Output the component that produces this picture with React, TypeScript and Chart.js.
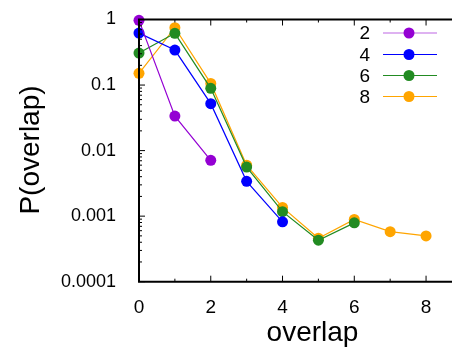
import React, { useEffect, useRef } from "react";
import { Chart, registerables } from "chart.js";

Chart.register(...registerables);

const seriesNames = ["2", "4", "6", "8"];
const seriesColors = ["#9400d3", "#0000ff", "#228b22", "#ffa500"];
const xs2 = [0, 1, 2];
const ys2 = [0.97, 0.0336, 0.0071];
const xs4 = [0, 1, 2, 3, 4];
const ys4 = [0.62, 0.342, 0.052, 0.0034, 0.00082];
const xs6 = [0, 1, 2, 3, 4, 5, 6];
const ys6 = [0.308, 0.615, 0.089, 0.0056, 0.00117, 0.00043, 0.00079];
const xs8 = [0, 1, 2, 3, 4, 5, 6, 7, 8];
const ys8 = [0.151, 0.75, 0.106, 0.006, 0.00136, 0.00046, 0.00089, 0.00058, 0.0005];
const xTicks = [0, 2, 4, 6, 8];
const xMinorTicks = [1, 3, 5, 7];
const yTicks = [1, 0.1, 0.01, 0.001, 0.0001];
const yTickLabels = ["1", "0.1", "0.01", "0.001", "0.0001"];

const FONT = "'Liberation Sans', Arial, sans-serif";

export default function App() {
  const ref = useRef<HTMLCanvasElement | null>(null);
  useEffect(() => {
    if (!ref.current) return;
    const xsAll = [xs2, xs4, xs6, xs8];
    const ysAll = [ys2, ys4, ys6, ys8];
    const datasets = seriesNames.map((n, i) => ({
      label: n,
      data: xsAll[i].map((x, j) => ({ x, y: ysAll[i][j] })),
      borderColor: seriesColors[i],
      backgroundColor: seriesColors[i],
      borderWidth: 1.2,
      pointRadius: 5.5,
      pointBorderWidth: 0,
      pointHoverRadius: 5.5,
      showLine: true,
      tension: 0,
      clip: false as any,
    }));

    const framePlugin = {
      id: "frame",
      afterDraw(chart: any) {
        const ctx = chart.ctx;
        const a = chart.chartArea;
        const xs = chart.scales.x;
        const ys = chart.scales.y;
        ctx.save();
        ctx.strokeStyle = "#000";
        ctx.lineWidth = 1;
        const tick = (x1: number, y1: number, x2: number, y2: number) => {
          ctx.beginPath();
          ctx.moveTo(x1, y1);
          ctx.lineTo(x2, y2);
          ctx.stroke();
        };
        xTicks.forEach((v) => {
          const p = xs.getPixelForValue(v);
          tick(p, a.bottom, p, a.bottom - 6);
          tick(p, a.top, p, a.top + 6);
        });
        xMinorTicks.forEach((v) => {
          const p = xs.getPixelForValue(v);
          tick(p, a.bottom, p, a.bottom - 3);
          tick(p, a.top, p, a.top + 3);
        });
        yTicks.forEach((v) => {
          const p = ys.getPixelForValue(v);
          tick(a.left, p, a.left + 6, p);
          if (v < 1) {
            for (let m = 2; m <= 9; m++) {
              const q = ys.getPixelForValue(v * m);
              tick(a.left, q, a.left + 3, q);
            }
          }
        });
        ctx.lineWidth = 2;
        ctx.beginPath();
        ctx.moveTo(chart.width, a.top);
        ctx.lineTo(a.left, a.top);
        ctx.lineTo(a.left, a.bottom);
        ctx.lineTo(chart.width, a.bottom);
        ctx.stroke();

        ctx.fillStyle = "#000";
        ctx.font = `28px ${FONT}`;
        ctx.textAlign = "center";
        ctx.textBaseline = "alphabetic";
        ctx.fillText("overlap", 312.5, 341);
        ctx.save();
        ctx.translate(39, 150);
        ctx.rotate(-Math.PI / 2);
        ctx.fillText("P(overlap)", 0, 0);
        ctx.restore();

        ctx.font = `19px ${FONT}`;
        ctx.textAlign = "right";
        ctx.textBaseline = "middle";
        const rows = [33, 54.5, 75.5, 96.5];
        seriesNames.forEach((n, i) => {
          const y = rows[i];
          ctx.fillStyle = "#000";
          ctx.fillText(n, 370, y + 1);
          ctx.strokeStyle = seriesColors[i];
          ctx.globalAlpha = i === 0 ? 0.6 : 1;
          ctx.lineWidth = 1.2;
          ctx.beginPath();
          ctx.moveTo(383, y);
          ctx.lineTo(437, y);
          ctx.stroke();
          ctx.globalAlpha = 1;
          ctx.fillStyle = seriesColors[i];
          ctx.beginPath();
          ctx.arc(409, y, 5.5, 0, Math.PI * 2);
          ctx.fill();
        });
        ctx.restore();
      },
    };

    const chart = new Chart(ref.current, {
      type: "scatter",
      data: { datasets: datasets as any },
      options: {
        animation: false,
        responsive: false,
        maintainAspectRatio: false,
        layout: { padding: { top: 19.5, right: 0, left: 0, bottom: 0 } },
        plugins: { legend: { display: false }, tooltip: { enabled: false } },
        scales: {
          x: {
            type: "linear",
            min: 0,
            max: 8.57,
            afterBuildTicks: (s: any) => {
              s.ticks = xTicks.map((v) => ({ value: v }));
            },
            afterFit: (s: any) => {
              s.height = 67.3;
              s.paddingLeft = 0;
              s.paddingRight = 0;
            },
            grid: { display: false },
            border: { display: false },
            ticks: {
              color: "#000",
              font: { family: FONT, size: 19 },
              padding: 7,
              maxRotation: 0,
              autoSkip: false,
            },
          },
          y: {
            type: "logarithmic",
            min: 0.0001,
            max: 1,
            afterBuildTicks: (s: any) => {
              s.ticks = yTicks.map((v) => ({ value: v }));
            },
            afterFit: (s: any) => {
              s.width = 139;
              s.paddingTop = 0;
              s.paddingBottom = 0;
            },
            grid: { display: false },
            border: { display: false },
            ticks: {
              color: "#000",
              font: { family: FONT, size: 18 },
              padding: 15,
              autoSkip: false,
              callback: (v: any) => {
                const i = yTicks.findIndex((t) => Math.abs(t - Number(v)) < t * 1e-6);
                return i >= 0 ? yTickLabels[i] : "";
              },
            },
          },
        },
      },
      plugins: [framePlugin],
    });
    return () => chart.destroy();
  }, []);
  return (
    <div style={{ position: "fixed", left: 0, top: 0, width: 452, height: 349, background: "#fff" }}>
      <canvas ref={ref} width={452} height={349} style={{ width: 452, height: 349, display: "block" }} />
    </div>
  );
}
